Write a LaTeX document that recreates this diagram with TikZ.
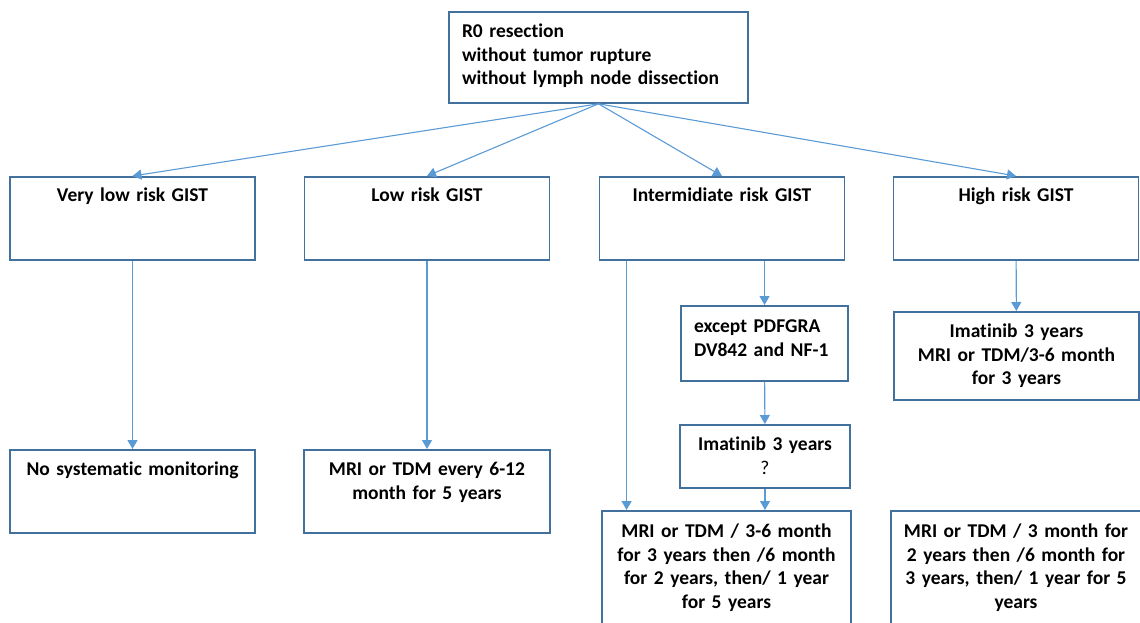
\documentclass[tikz,border=0pt]{standalone}
\usepackage{fontspec}
\setmainfont[Ligatures=NoCommon]{Carlito}
\usetikzlibrary{arrows.meta}
\definecolor{boxblue}{HTML}{41719C}
\definecolor{arrowblue}{HTML}{5B9BD5}

\begin{document}
\begin{tikzpicture}[x=1pt, y=-1pt,
  box/.style={draw=boxblue, line width=1.8pt, rectangle, inner sep=0pt, anchor=north, align=center, font=\bfseries\fontsize{19.5}{23.5}\selectfont},
  riskbox/.style={box, text width=245pt, text height=25pt, text depth=58pt},
  arrow/.style={draw=arrowblue, line width=1.1pt, -{Triangle[width=10pt,length=9pt]}}
]
  \clip (0,0) rectangle (1140,622);
  \node (resect) [box, align=left, inner xsep=13pt, text width=273pt, text height=26pt, text depth=65pt] at (598.5,11) {R0 resection\\without tumor rupture\\without lymph node dissection};

  \node (vlow) [riskbox] at (132.5,176) {Very low risk GIST};
  \node (low) [riskbox] at (427,176) {Low risk GIST};
  \node (inter) [riskbox] at (722,176) {Intermidiate risk GIST};
  \node (high) [riskbox] at (1016,176) {High risk GIST};

  \node (vlowmon) [box, text width=245pt, text height=26pt, text depth=57pt] at (132.5,449) {No systematic monitoring};
  \node (lowmon) [box, text width=246pt, text height=26pt, text depth=57pt] at (427,449) {MRI or TDM every 6-12\\month for 5 years};
  \node (except) [box, align=left, inner xsep=13pt, text width=141pt, text height=27pt, text depth=48pt] at (764.5,305) {except PDFGRA\\DV842 and NF-1};
  \node (imat) [box, text width=170pt, text height=26pt, text depth=37pt] at (765,424) {Imatinib 3 years\\{\mdseries ?}};
  \node (intmon) [box, text width=249pt, text height=27pt, text depth=110pt] at (726.5,510) {MRI or TDM / 3-6 month\\for 3 years then /6 month\\for 2 years, then/ 1 year\\for 5 years};
  \node (himat) [box, text width=245pt, text height=26pt, text depth=62pt] at (1016.5,311) {Imatinib 3 years\\MRI or TDM/3-6 month\\for 3 years};
  \node (himon) [box, text width=250pt, text height=27pt, text depth=110pt] at (1016,510) {MRI or TDM / 3 month for\\2 years then /6 month for\\3 years, then/ 1 year for 5\\years};

  \draw [arrow] (resect.south) -- (vlow.north);
  \draw [arrow] (resect.south) -- (low.north);
  \draw [arrow] (resect.south) -- (inter.north);
  \draw [arrow] (resect.south) -- (high.north);

  \draw [arrow] (vlow) -- (vlowmon);
  \draw [arrow] (low) -- (lowmon);
  \draw [arrow] ([xshift=28pt]inter.south west) -- ([xshift=28pt]inter.south west |- intmon.north);
  \draw [arrow] (except.north |- inter.south) -- (except.north);
  \draw [arrow] (except) -- (imat);
  \draw [arrow] (imat.south) -- (imat.south |- intmon.north);
  \draw [arrow] (high) -- (himat);
\end{tikzpicture}
\end{document}
